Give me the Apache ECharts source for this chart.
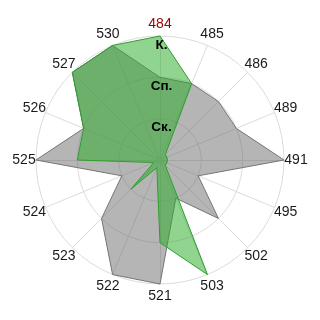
<!DOCTYPE html>
<html>
<head>
<meta charset="utf-8">
<script src="https://cdn.jsdelivr.net/npm/echarts@6/dist/echarts.min.js"></script>
<style>
html,body{margin:0;padding:0;background:#fff;}
#chart{width:320px;height:320px;}
</style>
</head>
<body>
<div id="chart"></div>
<script>
// categories in clockwise order starting from the top
var categories = ['484','485','486','489','491','495','502','503','521','522','523','524','525','526','527','530'];
var grayValues  = [2, 2, 2, 2, 3, 1, 2, 1, 3, 3, 2, 1, 3, 2, 3, 3];
var greenValues = [3, 2, 0.18, 0.18, 0.18, 0.18, 0.18, 3, 2, 0.2, 1, 0.16, 2, 2, 3, 3];
var levelLabels = ['', 'Ск.', 'Сп.', 'К.'];
var highlightCategory = '484';

// ECharts radar runs counter-clockwise; reorder so the picture runs clockwise
function ccw(arr) { return [arr[0]].concat(arr.slice(1).reverse()); }

var order = ccw(categories);
var indicator = order.map(function (c) {
  var ind = { name: c, min: 0, max: 3 };
  if (c === highlightCategory) ind.color = '#990000';
  return ind;
});
// overlay radar (same geometry) that only carries the level labels, drawn above the series
var labelIndicator = order.map(function (c, i) {
  var ind = { name: c, min: 0, max: 3 };
  if (i === 0) {
    ind.axisLabel = {
      show: true,
      margin: 0,
      align: 'center',
      verticalAlign: 'top',
      padding: [2, 0, 0, 3],
      fontSize: 13.5,
      fontWeight: 'bold',
      color: '#000',
      fontFamily: "'Liberation Sans', Arial, sans-serif",
      formatter: function (v) { return levelLabels[Math.round(v)] || ''; }
    };
  }
  return ind;
});

var chart = echarts.init(document.getElementById('chart'), null, { renderer: 'canvas' });
chart.setOption({
  animation: false,
  backgroundColor: '#fff',
  radar: [{
    center: [160, 160],
    radius: 124,
    startAngle: 90,
    shape: 'circle',
    splitNumber: 3,
    indicator: indicator,
    axisNameGap: 12,
    axisName: {
      color: '#1a1a1a',
      fontSize: 14,
      fontFamily: "'Liberation Sans Narrow', 'Liberation Sans', Arial, sans-serif",
      align: 'center',
      verticalAlign: 'middle'
    },
    axisLabel: { show: false },
    axisTick: { show: false },
    axisLine: { lineStyle: { color: '#dcdcdc', width: 1 } },
    splitLine: { lineStyle: { color: '#dcdcdc', width: 1 } },
    splitArea: { show: false }
  }, {
    z: 10,
    center: [160, 160],
    radius: 124,
    startAngle: 90,
    shape: 'circle',
    splitNumber: 3,
    indicator: labelIndicator,
    axisName: { show: false },
    axisLabel: { show: false },
    axisTick: { show: false },
    axisLine: { show: false },
    splitLine: { show: false },
    splitArea: { show: false }
  }],
  series: [{
    type: 'radar',
    radarIndex: 0,
    symbol: 'none',
    silent: true,
    data: [
      {
        value: ccw(grayValues),
        lineStyle: { color: '#7a7a7a', width: 1 },
        areaStyle: { color: 'rgb(107,107,107)', opacity: 0.5 }
      },
      {
        value: ccw(greenValues),
        lineStyle: { color: '#2e9a2e', width: 1 },
        areaStyle: { color: 'rgb(42,172,42)', opacity: 0.52 }
      }
    ]
  }]
});
</script>
</body>
</html>
